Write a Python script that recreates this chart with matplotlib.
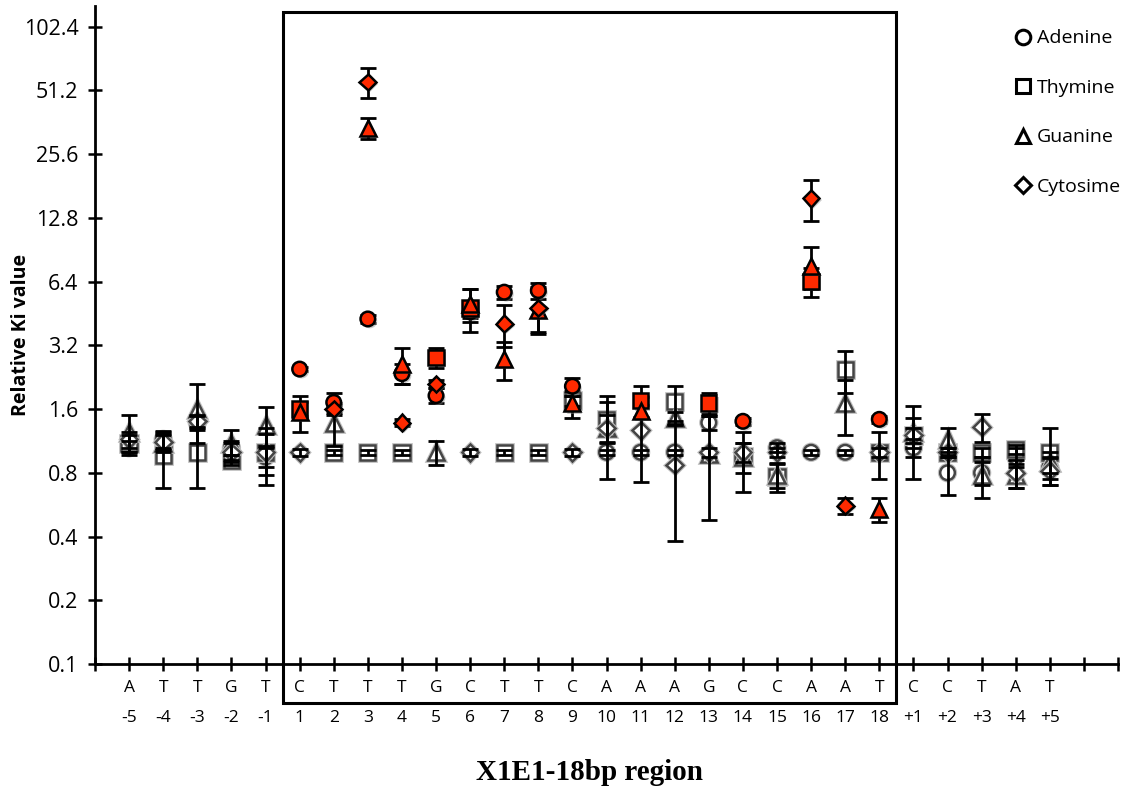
import matplotlib
matplotlib.use("Agg")
import matplotlib.pyplot as plt
import matplotlib.patheffects as pe
from matplotlib.lines import Line2D
from matplotlib.patches import Rectangle
from matplotlib.ticker import FixedLocator, NullLocator

# positions along the X1E1 site and the wild-type base at each one
positions = ['-5', '-4', '-3', '-2', '-1',
             '1', '2', '3', '4', '5', '6', '7', '8', '9', '10', '11', '12', '13', '14', '15', '16', '17', '18',
             '+1', '+2', '+3', '+4', '+5']
bases = ['A', 'T', 'T', 'G', 'T',
         'C', 'T', 'T', 'T', 'G', 'C', 'T', 'T', 'C', 'A', 'A', 'A', 'G', 'C', 'C', 'A', 'A', 'T',
         'C', 'C', 'T', 'A', 'T']

# relative Ki per substituted base (mean, sd)
adenine = [1.05, 1.15, 1.38, 1.05, 0.95,
           2.47, 1.72, 4.26, 2.35, 1.85, 4.6, 5.7, 5.8, 2.05, 1.0, 1.0, 1.0, 1.38, 1.4, 1.05, 1.0, 1.0, 1.43,
           1.05, 0.8, 0.8, 0.95, 0.85]
adenine_err = [0.08, 0.1, 0.1, 0.08, 0.1,
               0.05, 0.18, 0.2, 0.25, 0.15, 0.3, 0.4, 0.5, 0.2, 0.03, 0.03, 0.03, 0.1, 0.05, 0.05, 0.03, 0.03, 0.05,
               0.1, 0.17, 0.1, 0.1, 0.1]
thymine = [1.1, 0.97, 1.0, 0.92, 1.0,
           1.6, 1.0, 1.0, 1.0, 2.8, 4.8, 1.0, 1.0, 1.75, 1.42, 1.75, 1.73, 1.71, 0.95, 0.77, 6.4, 2.45, 1.0,
           1.2, 1.0, 1.0, 1.03, 1.0]
thymine_err = [0.1, 0.29, 0.32, 0.05, 0.3,
               0.12, 0.03, 0.03, 0.03, 0.3, 1.1, 0.03, 0.03, 0.1, 0.3, 0.3, 0.32, 0.2, 0.15, 0.12, 1.0, 0.55, 0.25,
               0.45, 0.05, 0.05, 0.05, 0.3]
guanine = [1.25, 1.1, 1.6, 1.1, 1.35,
           1.55, 1.37, 34.0, 2.6, 1.0, 5.0, 2.75, 4.7, 1.7, 1.3, 1.57, 1.45, 0.98, 0.95, 0.78, 7.6, 1.7, 0.54,
           1.25, 1.15, 0.78, 0.78, 0.9]
guanine_err = [0.25, 0.1, 0.5, 0.18, 0.28,
               0.3, 0.3, 4.0, 0.5, 0.13, 0.9, 0.55, 1.0, 0.25, 0.2, 0.1, 0.1, 0.5, 0.3, 0.1, 1.7, 0.5, 0.07,
               0.2, 0.15, 0.17, 0.1, 0.1]
cytosine = [1.15, 1.12, 1.4, 1.0, 1.0,
            1.0, 1.6, 56.0, 1.38, 2.1, 1.0, 4.05, 4.8, 1.0, 1.3, 1.27, 0.87, 1.0, 1.0, 1.0, 15.8, 0.56, 1.0,
            1.2, 1.0, 1.32, 0.8, 0.82]
cytosine_err = [0.1, 0.1, 0.1, 0.1, 0.22,
                0.04, 0.1, 9.0, 0.05, 0.1, 0.04, 0.9, 1.2, 0.04, 0.55, 0.55, 0.49, 0.05, 0.1, 0.05, 3.5, 0.05, 0.05,
                0.1, 0.05, 0.2, 0.12, 0.12]

# positions where the substitution changes Ki significantly
adenine_sig = ['1', '2', '3', '4', '5', '6', '7', '8', '9', '14', '18']
thymine_sig = ['1', '5', '6', '11', '13', '16']
guanine_sig = ['1', '3', '4', '6', '7', '8', '9', '11', '16', '18']
cytosine_sig = ['2', '3', '4', '5', '7', '8', '16', '17']

yticks = [0.1, 0.2, 0.4, 0.8, 1.6, 3.2, 6.4, 12.8, 25.6, 51.2, 102.4]

RED = '#ff2a00'
GREY = '#444444'
shadow = [pe.SimplePatchShadow(offset=(1.5, -1.5), shadow_rgbFace='0.55', alpha=0.45), pe.Normal()]
soft = [pe.Stroke(linewidth=3.4, foreground='0.75'), pe.Normal()]

fig = plt.figure(figsize=(11.34, 7.89), dpi=100)
ax = fig.add_axes([0.0838, 0.1584, 0.9021, 0.834])

xs = list(range(1, len(positions) + 1))

series = [
    (adenine, adenine_err, adenine_sig, 'o', 10.5),
    (thymine, thymine_err, thymine_sig, 's', 11),
    (guanine, guanine_err, guanine_sig, '^', 11.5),
    (cytosine, cytosine_err, cytosine_sig, 'D', 8.5),
]

for vals, errs, sig, mk, ms in series:
    ax.errorbar(xs, vals, yerr=errs, fmt='none', ecolor='black', elinewidth=2,
                capsize=6, capthick=2, zorder=2)
    gx = [x for x, p in zip(xs, positions) if p not in sig]
    gy = [v for v, p in zip(vals, positions) if p not in sig]
    rx = [x for x, p in zip(xs, positions) if p in sig]
    ry = [v for v, p in zip(vals, positions) if p in sig]
    ax.plot(gx, gy, linestyle='none', marker=mk, ms=ms, mfc='white', mec=GREY, mew=1.8,
            zorder=1, path_effects=soft)
    ax.plot(rx, ry, linestyle='none', marker=mk, ms=ms, mfc=RED, mec='black', mew=1.8,
            zorder=3, path_effects=shadow)

ax.set_yscale('log', base=2)
ax.set_ylim(0.1, 128)
ax.set_xlim(0, 30)
ax.yaxis.set_major_locator(FixedLocator(yticks))
ax.yaxis.set_minor_locator(NullLocator())
ax.set_yticklabels([f'{t:g}' for t in yticks])
ax.set_xticks(range(0, 31))
ax.set_xticklabels([])

for s in ['top', 'right']:
    ax.spines[s].set_visible(False)
for s in ['left', 'bottom']:
    ax.spines[s].set_linewidth(2)

ax.tick_params(axis='both', direction='inout', length=10, width=1.8, color='black')
ax.tick_params(axis='y', labelsize=15.5, pad=7)
for lab in ax.get_yticklabels():
    lab.set_fontfamily('Open Sans')

# base letters and position numbers under the x axis
tr = ax.get_xaxis_transform()
for x, b, p in zip(xs, bases, positions):
    ax.text(x, -0.0365, b, transform=tr, ha='center', va='center', fontsize=12.5, family='Open Sans')
    ax.text(x, -0.082, p, transform=tr, ha='center', va='center', fontsize=12.5, family='Open Sans')

# frame around the 18 bp core
ax.add_patch(Rectangle((5.5, 0.0654), 18.0, 120.5 - 0.0654, fill=False, lw=2.2,
                       edgecolor='black', clip_on=False, zorder=0))

ax.set_ylabel('Relative Ki value', fontsize=14, fontweight='bold', family='Open Sans')
ax.yaxis.set_label_coords(-0.063, 0.5)
fig.text(0.52, 0.004, 'X1E1-18bp region', ha='center', va='bottom', fontsize=21,
         fontweight='bold', family='Liberation Serif')

handles = [
    Line2D([], [], linestyle='none', marker='o', ms=10.5, mfc='white', mec='black', mew=2.2),
    Line2D([], [], linestyle='none', marker='s', ms=10.5, mfc='white', mec='black', mew=2.2),
    Line2D([], [], linestyle='none', marker='^', ms=10.5, mfc='white', mec='black', mew=2.2),
    Line2D([], [], linestyle='none', marker='D', ms=8, mfc='white', mec='black', mew=2.2),
]
leg = fig.legend(handles, ['Adenine', 'Thymine', 'Guanine', 'Cytosime'], loc='upper left',
                 bbox_to_anchor=(0.88, 0.985), frameon=False, handlelength=0.8,
                 handletextpad=0.3, labelspacing=1.62, prop={'family': 'Open Sans', 'size': 14})

fig.savefig('out.png', dpi=100)
